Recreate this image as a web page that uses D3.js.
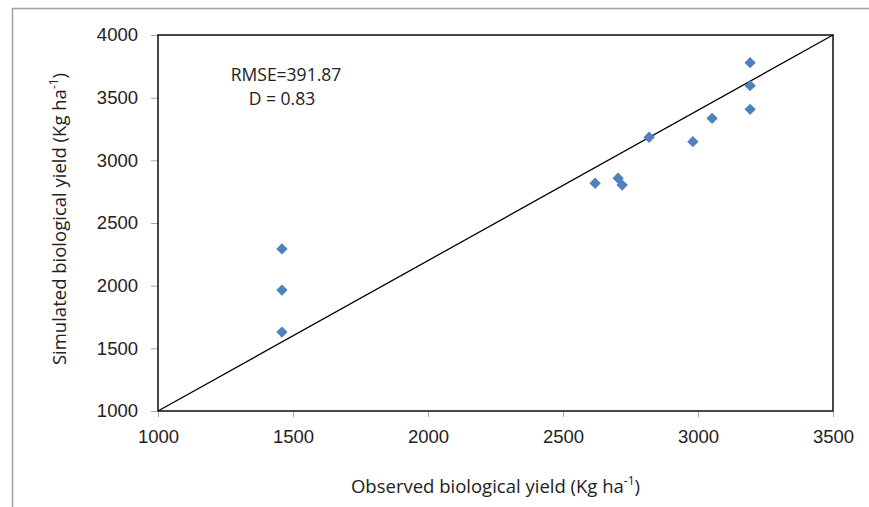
<!DOCTYPE html>
<html>
<head>
<meta charset="utf-8">
<script src="https://cdn.jsdelivr.net/npm/d3@7"></script>
<style>
  html, body { margin: 0; padding: 0; background: #fff; }
  svg { display: block; font-family: "Open Sans", "Noto Sans", sans-serif; }
  .tick text { fill: #222; }
</style>
</head>
<body>
<svg id="chart" width="869" height="507"></svg>
<script>
// ---- Data ----
const observed  = [1459, 1459, 1459, 2619, 2704, 2719, 2819, 2981, 3052, 3193, 3193, 3193];
const simulated = [2293, 1965, 1630, 2817, 2858, 2803, 3184, 3149, 3335, 3779, 3596, 3407];
const xTicks = [1000, 1500, 2000, 2500, 3000, 3500];
const yTicks = [1000, 1500, 2000, 2500, 3000, 3500, 4000];
const diagonal = [[1000, 1000], [3500, 4000]];
const stats = ['RMSE=391.87', 'D = 0.83'];

const points = observed.map((o, i) => ({obs: o, sim: simulated[i]}));

// ---- Layout ----
const svg = d3.select('#chart');
const width = +svg.attr('width');
const height = +svg.attr('height');
const margin = {top: 35, right: 36, bottom: 96, left: 158};

const x = d3.scaleLinear().domain([1000, 3500]).range([margin.left, width - margin.right]);
const y = d3.scaleLinear().domain([1000, 4000]).range([height - margin.bottom, margin.top]);

// outer chart border (only top/left visible in the crop)
svg.append('rect')
  .attr('x', 12.5).attr('y', 8.5)
  .attr('width', width + 20).attr('height', height + 20)
  .attr('fill', 'none')
  .attr('stroke', '#a0a0a0')
  .attr('stroke-width', 1.5);

// ---- Axes ----
const xAxis = d3.axisBottom(x).tickValues(xTicks).tickSize(6).tickPadding(13).tickFormat(d3.format('d'));
const yAxis = d3.axisLeft(y).tickValues(yTicks).tickSize(7).tickPadding(13).tickFormat(d3.format('d'));

const gx = svg.append('g')
  .attr('transform', `translate(0,${y(1000)})`)
  .call(xAxis);
const gy = svg.append('g')
  .attr('transform', `translate(${x(1000)},0)`)
  .call(yAxis);

[gx, gy].forEach(g => {
  g.select('.domain').remove();
  g.selectAll('.tick line').attr('stroke', '#a6a6a6').attr('stroke-width', 1);
  g.selectAll('.tick text').style('font-size', '18.5px');
});

// plot area frame
svg.append('rect')
  .attr('x', x(1000)).attr('y', y(4000))
  .attr('width', x(3500) - x(1000))
  .attr('height', y(1000) - y(4000))
  .attr('fill', 'none')
  .attr('stroke', '#1a1a1a')
  .attr('stroke-width', 1.6);

// diagonal line
svg.append('path')
  .datum(diagonal)
  .attr('fill', 'none')
  .attr('stroke', '#000')
  .attr('stroke-width', 1.3)
  .attr('d', d3.line().x(d => x(d[0])).y(d => y(d[1])));

// points (diamonds = rotated squares)
const diamond = d3.symbol().type(d3.symbolSquare).size(64);
svg.append('g')
  .selectAll('path')
  .data(points)
  .join('path')
  .attr('transform', d => `translate(${x(d.obs)},${y(d.sim)}) rotate(45)`)
  .attr('d', diamond)
  .attr('fill', '#4f81bd');

// stats annotation
const statsX = [286, 282];
svg.append('g')
  .selectAll('text')
  .data(stats)
  .join('text')
  .attr('x', (d, i) => statsX[i])
  .attr('y', (d, i) => 81 + i * 24)
  .attr('text-anchor', 'middle')
  .attr('fill', '#222')
  .style('font-size', '17.5px')
  .text(d => d);

// ---- Axis titles ----
const xTitle = svg.append('text')
  .attr('x', (x(1000) + x(3500)) / 2)
  .attr('y', 493)
  .attr('text-anchor', 'middle')
  .attr('fill', '#222')
  .style('font-size', '18.5px');
xTitle.append('tspan').text('Observed biological yield (Kg ha');
xTitle.append('tspan').attr('dy', -8).style('font-size', '12px').text('-1');
xTitle.append('tspan').attr('dy', 8).text(')');

const yTitle = svg.append('text')
  .attr('transform', `translate(66,${219}) rotate(-90)`)
  .attr('text-anchor', 'middle')
  .attr('fill', '#222')
  .style('font-size', '18.5px');
yTitle.append('tspan').text('Simulated biological yield (Kg ha');
yTitle.append('tspan').attr('dy', -8).style('font-size', '12px').text('-1');
yTitle.append('tspan').attr('dy', 8).text(')');
</script>
</body>
</html>
